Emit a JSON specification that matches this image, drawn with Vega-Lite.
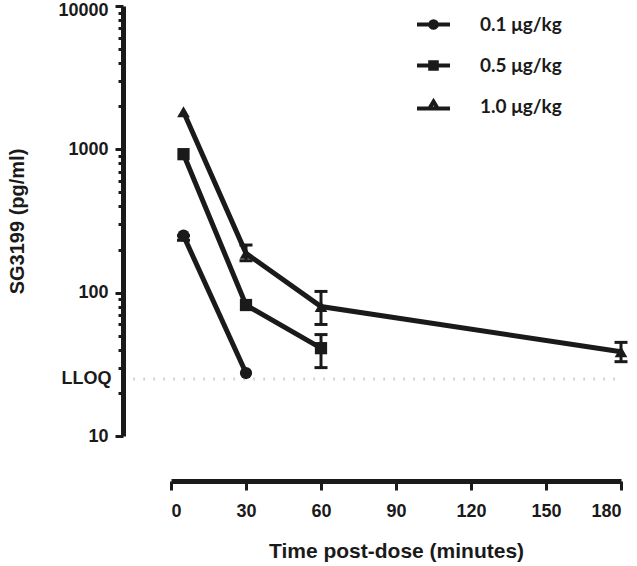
{
  "$schema": "https://vega.github.io/schema/vega-lite/v6.json",
  "width": 450,
  "height": 430,
  "autosize": {"type": "none"},
  "padding": {"left": 171, "top": 6, "right": 16, "bottom": 130},
  "config": {
    "view": {"stroke": null},
    "font": "Liberation Sans",
    "axis": {
      "grid": false,
      "domainColor": "#1a1a1a",
      "domainWidth": 5,
      "tickColor": "#1a1a1a",
      "tickWidth": 3,
      "labelFont": "Liberation Sans",
      "labelFontWeight": "bold",
      "labelFontSize": 18,
      "labelColor": "#1a1a1a",
      "titleFont": "Liberation Sans",
      "titleFontWeight": "bold",
      "titleColor": "#1a1a1a"
    }
  },
  "datasets": {
    "pk": [
      {"dose": "0.1 μg/kg", "t": 5, "c": 250, "lo": 232, "hi": 250},
      {"dose": "0.1 μg/kg", "t": 30, "c": 27.5, "lo": null, "hi": null},
      {"dose": "0.5 μg/kg", "t": 5, "c": 925, "lo": null, "hi": null},
      {"dose": "0.5 μg/kg", "t": 30, "c": 82, "lo": null, "hi": null},
      {"dose": "0.5 μg/kg", "t": 60, "c": 41, "lo": 30, "hi": 51},
      {"dose": "1.0 μg/kg", "t": 5, "c": 1830, "lo": null, "hi": null},
      {"dose": "1.0 μg/kg", "t": 30, "c": 188, "lo": 167, "hi": 215},
      {"dose": "1.0 μg/kg", "t": 60, "c": 80, "lo": 60, "hi": 102},
      {"dose": "1.0 μg/kg", "t": 180, "c": 38.7, "lo": 33, "hi": 45}
    ],
    "lloq": [
      {"t": -15, "t2": 180, "c": 25}
    ]
  },
  "encoding": {
    "x": {
      "field": "t",
      "type": "quantitative",
      "title": "Time post-dose (minutes)",
      "scale": {"domain": [0, 180], "nice": false, "zero": false},
      "axis": {
        "offset": 45,
        "values": [0, 30, 60, 90, 120, 150, 180],
        "tickSize": 9,
        "labelPadding": 12,
        "titleFontSize": 21,
        "titlePadding": 20
      }
    },
    "y": {
      "field": "c",
      "type": "quantitative",
      "title": "SG3199 (pg/ml)",
      "scale": {"type": "log", "domain": [10, 10000], "nice": false},
      "axis": {
        "offset": 48,
        "values": [10, 20, 25, 30, 40, 50, 60, 70, 80, 90, 100, 200, 300, 400, 500, 600, 700, 800, 900, 1000, 2000, 3000, 4000, 5000, 6000, 7000, 8000, 9000, 10000],
        "tickSize": {"condition": {"test": "datum.value == 10 || datum.value == 100 || datum.value == 1000 || datum.value == 10000", "value": 8}, "value": 5},
        "tickOpacity": {"condition": {"test": "datum.value == 25", "value": 0}, "value": 1},
        "labelExpr": "datum.value == 25 ? 'LLOQ' : ((datum.value == 10 || datum.value == 100 || datum.value == 1000 || datum.value == 10000) ? '' + datum.value : '')",
        "labelBaseline": {"condition": {"test": "datum.value == 10000", "value": "top"}, "value": "middle"},
        "labelOffset": {"condition": {"test": "datum.value == 10000", "value": -5}, "value": 0},
        "labelPadding": 7,
        "labelOverlap": false,
        "titleFontSize": 20,
        "titlePadding": 30
      }
    }
  },
  "layer": [
    {
      "data": {"name": "lloq"},
      "mark": {"type": "rule", "color": "#bdbdbd", "strokeWidth": 3, "strokeDash": [1.2, 8.8]},
      "encoding": {"x2": {"field": "t2"}}
    },
    {
      "data": {"name": "pk"},
      "mark": {"type": "line", "color": "#1a1a1a", "strokeWidth": 5},
      "encoding": {"detail": {"field": "dose", "type": "nominal"}}
    },
    {
      "data": {"name": "pk"},
      "transform": [{"filter": "isValid(datum.lo)"}],
      "mark": {"type": "rule", "color": "#1a1a1a", "strokeWidth": 3},
      "encoding": {
        "y": {"field": "lo", "type": "quantitative", "title": "SG3199 (pg/ml)"},
        "y2": {"field": "hi"}
      }
    },
    {
      "data": {"name": "pk"},
      "transform": [{"filter": "isValid(datum.lo)"}],
      "mark": {"type": "tick", "orient": "horizontal", "color": "#1a1a1a", "opacity": 1, "size": 13, "thickness": 3},
      "encoding": {"y": {"field": "lo", "type": "quantitative", "title": "SG3199 (pg/ml)"}}
    },
    {
      "data": {"name": "pk"},
      "transform": [{"filter": "isValid(datum.hi)"}],
      "mark": {"type": "tick", "orient": "horizontal", "color": "#1a1a1a", "opacity": 1, "size": 13, "thickness": 3},
      "encoding": {"y": {"field": "hi", "type": "quantitative", "title": "SG3199 (pg/ml)"}}
    },
    {
      "data": {"name": "pk"},
      "transform": [{"filter": "datum.dose == '0.1 μg/kg'"}],
      "mark": {"type": "point", "shape": "circle", "filled": true, "size": 150, "color": "#1a1a1a", "opacity": 1}
    },
    {
      "data": {"name": "pk"},
      "transform": [{"filter": "datum.dose == '0.5 μg/kg'"}],
      "mark": {"type": "point", "shape": "square", "filled": true, "size": 150, "color": "#1a1a1a", "opacity": 1}
    },
    {
      "data": {"name": "pk"},
      "transform": [{"filter": "datum.dose == '1.0 μg/kg'"}],
      "mark": {"type": "point", "shape": "triangle-up", "filled": true, "size": 160, "color": "#1a1a1a", "opacity": 1}
    },
    {
      "data": {"name": "pk"},
      "mark": {"type": "point", "filled": false, "opacity": 0, "size": 1089, "color": "#1a1a1a", "strokeWidth": 4},
      "encoding": {
        "shape": {
          "field": "dose",
          "type": "nominal",
          "scale": {"range": [
            "M-1,0H1M0.2,0A0.2,0.2,0,1,1,-0.2,0A0.2,0.2,0,1,1,0.2,0Z",
            "M-1,0H1M-0.2,-0.2H0.2V0.2H-0.2Z",
            "M-1,0.12H1M0,-0.3L0.25,0.12H-0.25Z"
          ]},
          "legend": {
            "title": null,
            "orient": "none",
            "legendX": 244,
            "legendY": 0,
            "padding": 0,
            "symbolSize": 1089,
            "symbolOpacity": 1,
            "symbolFillColor": "#1a1a1a",
            "symbolStrokeColor": "#1a1a1a",
            "symbolStrokeWidth": 4,
            "labelFont": "Lato",
            "labelFontWeight": "bold",
            "labelFontSize": 19,
            "labelColor": "#1a1a1a",
            "labelOffset": 28,
            "rowPadding": 11
          }
        }
      }
    }
  ]
}
